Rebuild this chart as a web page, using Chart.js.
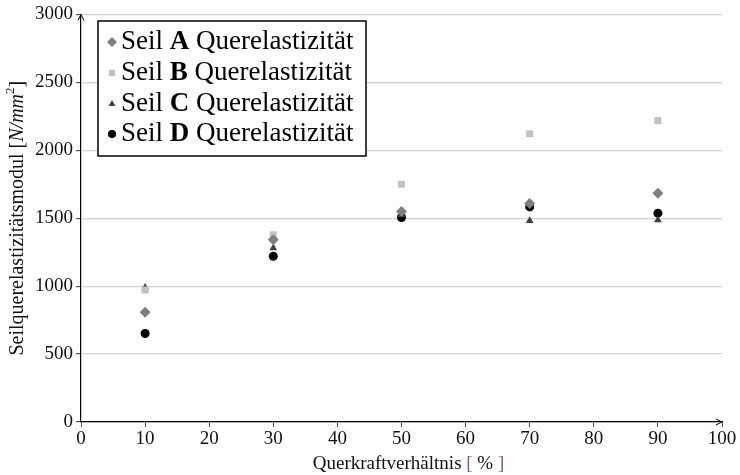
<!DOCTYPE html>
<html>
<head>
<meta charset="utf-8">
<script src="https://cdn.jsdelivr.net/npm/chart.js@4.4.0/dist/chart.umd.min.js"></script>
<style>
  html, body { margin: 0; padding: 0; background: #fff; }
  #wrap { width: 740px; height: 475px; }
</style>
</head>
<body>
<div id="wrap"><canvas id="chart" width="740" height="475"></canvas></div>
<script>
// Querkraftverhältnis in %
const xValues = [10, 30, 50, 70, 90];

// Seilquerelastizitätsmodul [N/mm²]
const seilA = [807, 1341, 1550, 1608, 1684];
const seilB = [972, 1378, 1750, 2121, 2218];
const seilC = [990, 1281, 1525, 1481, 1486];
const seilD = [651, 1220, 1505, 1583, 1537];

const seriesNames = ['A', 'B', 'C', 'D'];
const xTicks = [0, 10, 20, 30, 40, 50, 60, 70, 80, 90, 100];
const yTicks = [0, 500, 1000, 1500, 2000, 2500, 3000];

const serif = "'Liberation Serif', 'DejaVu Serif', serif";

const styles = [
    { pointStyle: 'rectRot', color: '#7f7f7f', radius: 5.5 },
    { pointStyle: 'rect', color: '#c2c2c2', radius: 5 },
    { pointStyle: 'triangle', color: '#3f3f3f', radius: 4.5 },
    { pointStyle: 'circle', color: '#000000', radius: 4.5 }
];

const allSeries = [seilA, seilB, seilC, seilD];

const datasets = allSeries.map((vals, i) => ({
    label: 'Seil ' + seriesNames[i] + ' Querelastizität',
    data: xValues.map((x, j) => ({ x: x, y: vals[j] })),
    pointStyle: styles[i].pointStyle,
    pointRadius: styles[i].radius,
    pointHoverRadius: styles[i].radius,
    backgroundColor: styles[i].color,
    borderColor: styles[i].color,
    borderWidth: 0,
    showLine: false
}));

// legend, axis arrows and axis titles drawn on the canvas
const decor = {
    id: 'decor',
    afterDraw(chart) {
        const ctx = chart.ctx;
        const area = chart.chartArea;
        ctx.save();

        // axis arrows
        ctx.strokeStyle = '#000';
        ctx.lineWidth = 1;
        ctx.beginPath();
        ctx.moveTo(area.left - 3, area.top + 6);
        ctx.lineTo(area.left, area.top);
        ctx.lineTo(area.left + 3, area.top + 6);
        ctx.moveTo(area.right - 6, area.bottom - 3);
        ctx.lineTo(area.right, area.bottom);
        ctx.lineTo(area.right - 6, area.bottom + 3);
        ctx.stroke();

        // legend box
        const bx = 98, by = 21, bw = 268, bh = 135;
        ctx.fillStyle = '#fff';
        ctx.fillRect(bx, by, bw, bh);
        ctx.lineWidth = 1.5;
        ctx.strokeStyle = '#000';
        ctx.strokeRect(bx, by, bw, bh);

        const rowY = [42, 73, 104, 134];
        const lf = '27px ' + serif;
        seriesNames.forEach((name, i) => {
            const s = styles[i];
            ctx.fillStyle = s.color;
            ctx.strokeStyle = s.color;
            Chart.helpers.drawPoint(ctx, { pointStyle: s.pointStyle, radius: s.radius - 0.5, borderWidth: 0 }, 112, rowY[i]);
            ctx.fillStyle = '#000';
            ctx.textBaseline = 'middle';
            ctx.textAlign = 'left';
            let x = 121;
            ctx.font = lf;
            ctx.fillText('Seil ', x, rowY[i]);
            x += ctx.measureText('Seil ').width;
            ctx.font = 'bold ' + lf;
            ctx.fillText(name, x, rowY[i]);
            x += ctx.measureText(name).width;
            ctx.font = lf;
            ctx.fillText(' Querelastizität', x, rowY[i]);
        });

        // x title
        ctx.textBaseline = 'middle';
        ctx.font = '19px ' + serif;
        const p1 = 'Querkraftverhältnis ', p2 = '[', p3 = ' % ', p4 = ']';
        const tw = ctx.measureText(p1 + p2 + p3 + p4).width;
        let tx = (area.left + area.right) / 2 - tw / 2 + 7;
        const ty = 464;
        ctx.textAlign = 'left';
        ctx.fillStyle = '#111';
        ctx.fillText(p1, tx, ty); tx += ctx.measureText(p1).width;
        ctx.fillStyle = '#7a5a90';
        ctx.fillText(p2, tx, ty); tx += ctx.measureText(p2).width;
        ctx.fillStyle = '#111';
        ctx.fillText(p3, tx, ty); tx += ctx.measureText(p3).width;
        ctx.fillStyle = '#7a5a90';
        ctx.fillText(p4, tx, ty);

        // y title (rotated)
        ctx.translate(18, (area.top + area.bottom) / 2);
        ctx.rotate(-Math.PI / 2);
        ctx.fillStyle = '#111';
        const parts = [
            { t: 'Seilquerelastizitätsmodul [', f: '20px ' + serif, dy: 0 },
            { t: 'N/mm', f: 'italic 20px ' + serif, dy: 0 },
            { t: '2', f: '13px ' + serif, dy: -7 },
            { t: ']', f: '20px ' + serif, dy: 0 }
        ];
        let total = 0;
        parts.forEach(p => { ctx.font = p.f; total += ctx.measureText(p.t).width; });
        let px = -total / 2;
        parts.forEach(p => {
            ctx.font = p.f;
            ctx.fillText(p.t, px, p.dy);
            px += ctx.measureText(p.t).width;
        });
        ctx.restore();
    }
};

const ctx = document.getElementById('chart').getContext('2d');
new Chart(ctx, {
    type: 'scatter',
    data: { datasets: datasets },
    options: {
        responsive: false,
        animation: false,
        events: [],
        layout: { padding: { top: 13, right: 18, left: 0, bottom: 0 } },
        plugins: {
            legend: { display: false },
            tooltip: { enabled: false },
            title: { display: false }
        },
        scales: {
            x: {
                type: 'linear',
                min: 0,
                max: 100,
                afterBuildTicks: s => { s.ticks = xTicks.map(v => ({ value: v })); },
                afterFit: s => { s.height = 53; },
                border: { display: true, color: '#000', width: 1.2 },
                grid: { drawOnChartArea: false, tickLength: 5, tickColor: '#555' },
                ticks: {
                    color: '#111',
                    padding: 1,
                    maxRotation: 0,
                    callback: v => String(v),
                    font: { family: serif, size: 19 }
                }
            },
            y: {
                type: 'linear',
                min: 0,
                max: 3000,
                afterBuildTicks: s => { s.ticks = yTicks.map(v => ({ value: v })); },
                afterFit: s => { s.width = 81; },
                border: { display: true, color: '#000', width: 1.2 },
                grid: { color: '#d4d4d4', lineWidth: 1.2, tickLength: 5, tickColor: '#555' },
                ticks: {
                    color: '#111',
                    padding: 3,
                    callback: v => String(v),
                    font: { family: serif, size: 19 }
                }
            }
        }
    },
    plugins: [decor]
});
</script>
</body>
</html>
